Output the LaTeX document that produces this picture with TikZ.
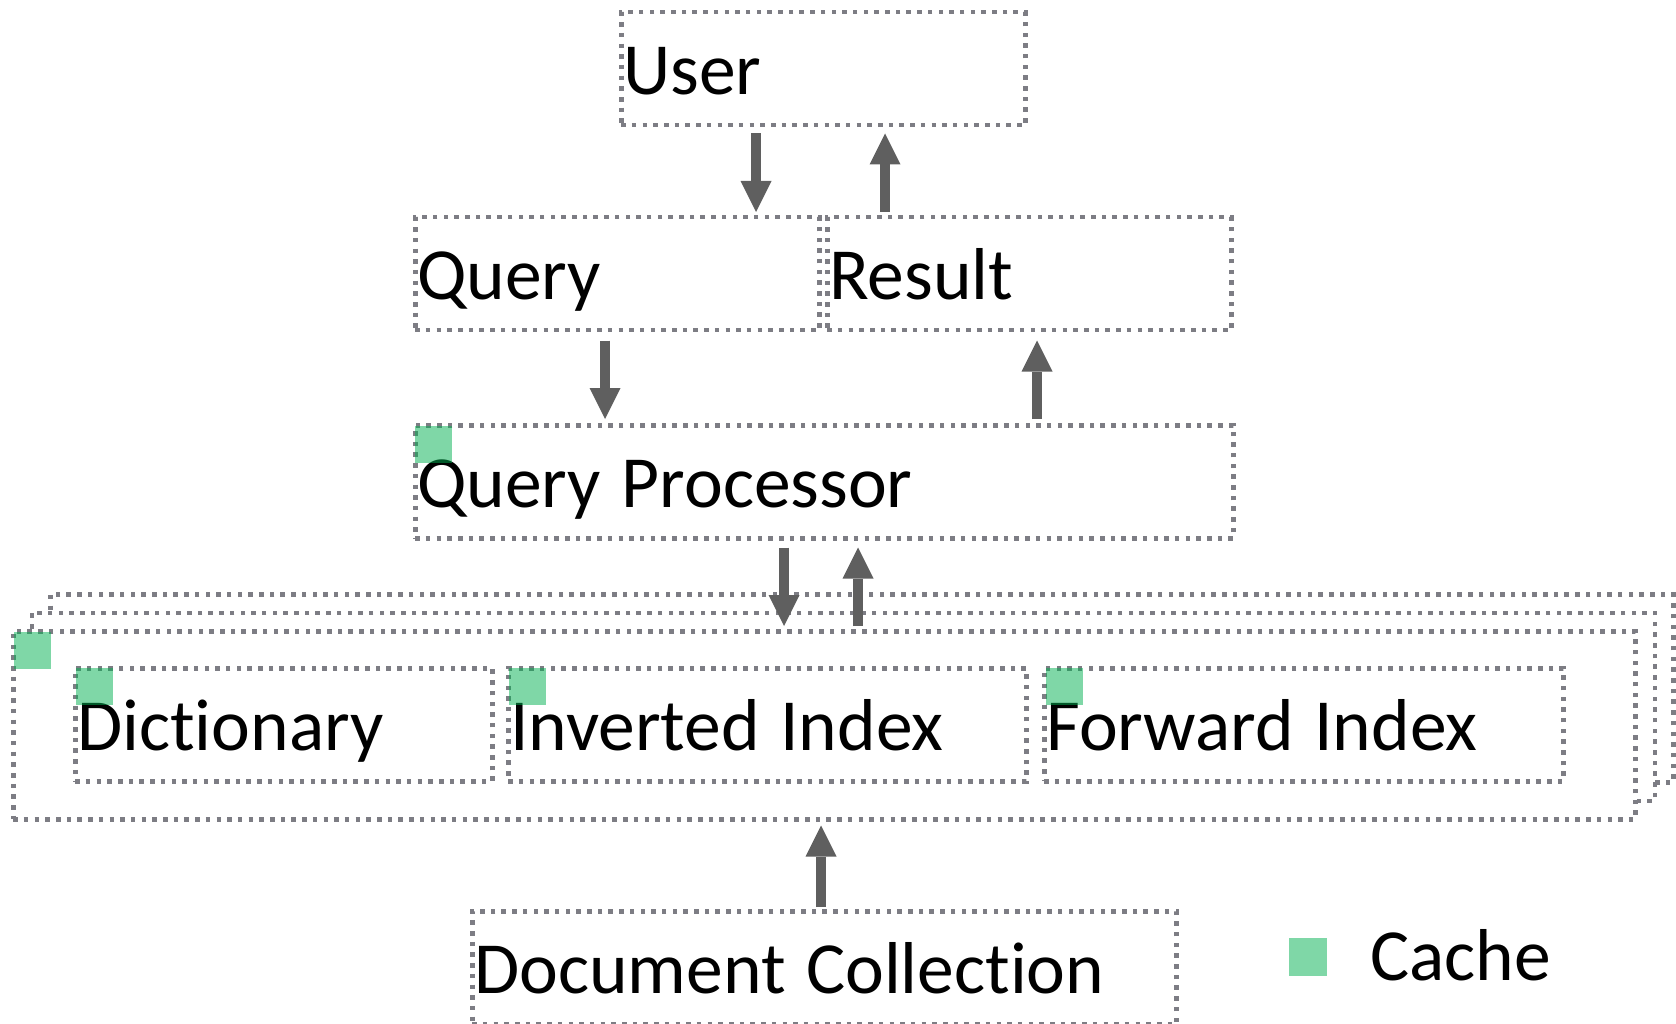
\documentclass[tikz,border=0pt]{standalone}
\usepackage{fontspec}
\setmainfont{Carlito}[Ligatures={NoCommon}]
\usetikzlibrary{arrows.meta}
\definecolor{boxline}{RGB}{125,125,132}
\definecolor{arrowgray}{RGB}{95,95,95}
\definecolor{cachegreen}{RGB}{0,176,80}
\begin{document}
\begin{tikzpicture}[x=1pt,y=-1pt,
  box/.style={rectangle, draw=boxline, line width=4.5pt, dash pattern=on 4.5pt off 6.2pt,
    fill=white, anchor=north west, inner xsep=2pt, inner ysep=0pt,
    minimum height=113pt, text height=82pt, text depth=31pt, align=left,
    font=\fontsize{73.5}{80}\selectfont,
    execute at begin node={\spaceskip=0.28em plus 0.1em\relax}},
  arr/.style={draw=arrowgray, line width=10pt,
    -{Triangle[width=31pt,length=31pt,line width=0pt]}},
  cachesq/.style={rectangle, fill=cachegreen, fill opacity=0.5, draw=none,
    minimum size=37pt, inner sep=0pt, anchor=north west},
  lbl/.style={font=\fontsize{73.5}{80}\selectfont, inner sep=0pt, anchor=base west}]
\useasboundingbox (0,0) rectangle (1676,1024);

\begin{scope}[shift={(-2,-2)}]
% upper boxes
\node[box, minimum width=404pt, minimum height=112pt, text width=400pt] (user) at (621,12) {User};
\node[box, minimum width=404pt, text width=400pt] (query) at (415,217) {Query};
\node[box, minimum width=404pt, text width=400pt] (result) at (827,217) {Result};
\node[box, minimum width=818pt, text width=814pt] (qp) at (415,425) {Query Processor};

% stacked index shards, back to front
\node[box, minimum width=1623pt, minimum height=188pt, text width=1619pt] (shard3) at (50,594) {};
\node[box, minimum width=1623pt, minimum height=188pt, text width=1619pt] (shard2) at (31.5,612.5) {};
\node[box, minimum width=1622pt, minimum height=188pt, text width=1618pt] (shard1) at (13,631) {};

\node[box, minimum width=417pt, text width=413pt] (dict) at (75,668) {Dictionary};
\node[box, minimum width=518pt, text width=514pt] (inv) at (508,668) {Inverted Index};
\node[box, minimum width=519pt, text width=515pt] (fwd) at (1044,668) {Forward Index};

\node[box, minimum width=704pt, minimum height=111pt, text width=700pt] (doc) at (472,911) {Document Collection};

% cache markers
\node[cachesq] (qpc) at ([xshift=2pt,yshift=-3pt]qp.north west) {};
\node[cachesq] (shardc) at ([xshift=3pt,yshift=-3pt]shard1.north west) {};
\node[cachesq] (dictc) at ([xshift=3pt,yshift=-2pt]dict.north west) {};
\node[cachesq] (invc) at ([xshift=3pt,yshift=-2pt]inv.north west) {};
\node[cachesq] (fwdc) at ([xshift=4pt,yshift=-2pt]fwd.north west) {};

% legend
\node[cachesq, minimum size=38pt] (legsq) at (1291,940) {};
\node[lbl] (legtxt) at (1372,982) {Cache};

% arrow columns
\coordinate (xa) at (758,0);
\coordinate (xb) at (887,0);
\coordinate (xc) at (607,0);
\coordinate (xd) at (1039,0);
\coordinate (xe) at (786,0);
\coordinate (xf) at (860,0);
\coordinate (xg) at (823,0);

\draw[arr, shorten <=6pt, shorten >=3pt] (user.south -| xa) -- (query.north -| xa);
\draw[arr, shorten <=3pt, shorten >=6pt] (result.north -| xb) -- (user.south -| xb);
\draw[arr, shorten <=8pt, shorten >=4pt] (query.south -| xc) -- (qp.north -| xc);
\draw[arr, shorten <=4pt, shorten >=8pt] (qp.north -| xd) -- (result.south -| xd);
\draw[arr, shorten <=7pt, shorten >=3pt] (qp.south -| xe) -- (shard1.north -| xe);
\draw[arr, shorten <=3pt, shorten >=7pt] (shard1.north -| xf) -- (qp.south -| xf);
\draw[arr, shorten <=2pt, shorten >=4pt] (doc.north -| xg) -- (shard1.south -| xg);
\end{scope}
\end{tikzpicture}
\end{document}
